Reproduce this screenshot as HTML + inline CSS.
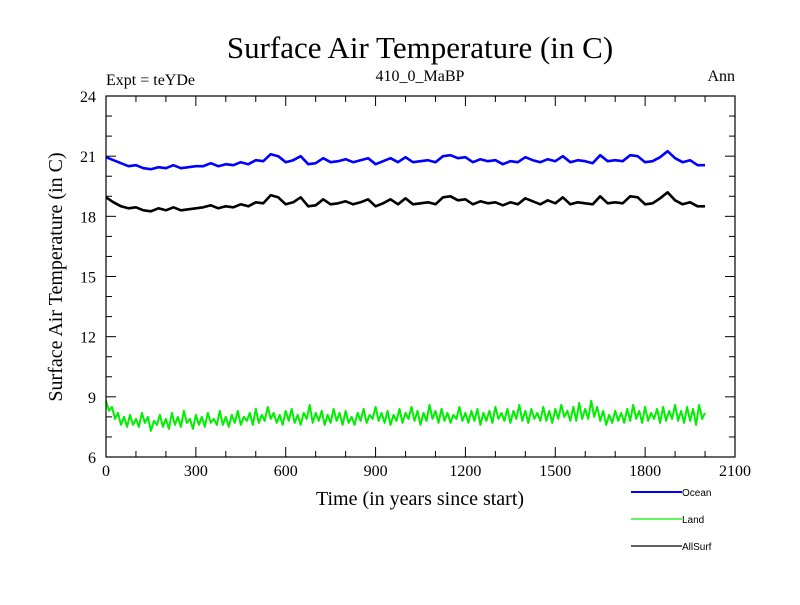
<!DOCTYPE html>
<html><head><meta charset="utf-8">
<style>
body{margin:0;background:#fff;}
svg text{font-family:"Liberation Serif",serif;}
</style></head>
<body>
<svg id="chart" width="800" height="600" xmlns="http://www.w3.org/2000/svg">
<text x="420" y="58" font-size="31" text-anchor="middle">Surface Air Temperature (in C)</text>
<text x="106" y="85" font-size="16">Expt = teYDe</text>
<text x="420" y="81" font-size="16" text-anchor="middle">410_0_MaBP</text>
<text x="735" y="81" font-size="16" text-anchor="end">Ann</text>
<text x="420" y="505" font-size="20" text-anchor="middle">Time (in years since start)</text>
<text transform="translate(62,277) rotate(-90)" font-size="20" text-anchor="middle">Surface Air Temperature (in C)</text>
<g id="ticks"></g>
<g id="series"></g>
<rect x="106" y="96" width="629" height="361" fill="none" stroke="#000" stroke-width="1.2"/>
<g id="legend"></g>
</svg>
<script>
const years=[];for(let i=0;i<=80;i++)years.push(i*25);
const landYears=[];for(let i=0;i<=200;i++)landYears.push(i*10);
const ocean=[20.95,20.8,20.65,20.5,20.55,20.4,20.35,20.45,20.4,20.55,20.4,20.45,20.5,20.5,20.65,20.5,20.6,20.55,20.7,20.6,20.8,20.75,21.1,21.0,20.7,20.8,21.0,20.6,20.65,20.9,20.7,20.75,20.85,20.7,20.8,20.9,20.6,20.75,20.9,20.7,20.95,20.7,20.75,20.8,20.7,21.0,21.05,20.9,20.95,20.7,20.85,20.75,20.8,20.6,20.75,20.7,20.95,20.8,20.7,20.85,20.75,21.0,20.7,20.8,20.75,20.65,21.05,20.75,20.8,20.75,21.05,21.0,20.7,20.75,20.95,21.25,20.9,20.7,20.8,20.55,20.55];
const allsurf=[18.95,18.7,18.5,18.4,18.45,18.3,18.25,18.4,18.3,18.45,18.3,18.35,18.4,18.45,18.55,18.4,18.5,18.45,18.6,18.5,18.7,18.65,19.05,18.95,18.6,18.7,18.95,18.5,18.55,18.85,18.6,18.65,18.75,18.6,18.7,18.85,18.5,18.65,18.85,18.6,18.9,18.6,18.65,18.7,18.6,18.95,19.0,18.8,18.85,18.6,18.75,18.65,18.7,18.55,18.7,18.6,18.9,18.75,18.6,18.8,18.65,18.95,18.6,18.7,18.65,18.6,19.0,18.65,18.7,18.65,19.0,18.95,18.6,18.65,18.9,19.2,18.8,18.6,18.7,18.5,18.5];
const land=[8.8,8.3,8.5,7.9,8.2,7.6,8.0,7.5,8.1,7.6,
7.9,7.5,8.2,7.7,8.0,7.3,7.8,7.6,8.1,7.5,
7.9,7.4,8.2,7.6,8.0,7.5,8.3,7.7,7.9,7.4,
8.1,7.6,8.0,7.5,8.2,7.7,7.9,7.6,8.3,7.6,
8.0,7.5,8.1,7.7,8.3,7.6,8.0,7.8,8.2,7.6,
8.4,7.7,8.1,7.8,8.5,7.9,8.2,7.7,8.1,7.6,
8.3,7.8,8.4,7.7,8.1,7.6,8.2,7.9,8.6,7.7,
8.2,7.8,8.3,7.6,8.1,7.7,8.4,7.8,8.2,7.6,
8.3,7.7,8.0,7.6,8.2,7.8,8.4,7.7,8.1,7.9,
8.5,7.8,8.2,7.7,8.3,7.6,8.1,7.8,8.4,7.7,
8.2,7.9,8.5,7.8,8.3,7.6,8.2,7.8,8.6,7.9,
8.3,7.7,8.4,7.8,8.2,7.7,8.1,7.9,8.5,7.8,
8.2,7.7,8.3,7.8,8.4,7.6,8.2,7.8,8.3,7.7,
8.5,7.9,8.2,7.8,8.4,7.7,8.3,7.9,8.6,7.8,
8.3,7.7,8.4,7.9,8.2,7.8,8.5,7.8,8.3,7.7,
8.4,7.9,8.6,8.0,8.3,7.8,8.5,7.8,8.7,7.9,
8.4,7.9,8.8,8.0,8.5,7.8,8.3,7.6,8.1,7.7,
8.3,7.8,8.2,7.7,8.4,7.8,8.6,7.9,8.3,7.7,
8.5,7.8,8.2,7.9,8.4,7.7,8.5,7.8,8.3,7.9,
8.6,7.8,8.3,7.7,8.5,7.8,8.4,7.6,8.6,7.9,8.2];
const xTicks=[0,300,600,900,1200,1500,1800,2100];
const yTicks=[6,9,12,15,18,21,24];
const seriesNames=['Ocean','Land','AllSurf'];
const seriesColors=['#0000ff','#00ee00','#000000'];
const X0=106,X1=735,Y0=457,Y1=96;
const xs=v=>X0+v/2100*(X1-X0);
const ys=v=>Y0-(v-6)/18*(Y0-Y1);
const NS='http://www.w3.org/2000/svg';
function mk(t,a,p){const e=document.createElementNS(NS,t);for(const k in a)e.setAttribute(k,a[k]);p.appendChild(e);return e;}
const tg=document.getElementById('ticks');
for(let v=0;v<=2100;v+=100){const x=xs(v),L=(v%300===0)?10:6;
const t1=mk('line',{x1:x,y1:Y0,x2:x,y2:Y0-L,stroke:'#000'},tg);


const t2=mk('line',{x1:x,y1:Y1,x2:x,y2:Y1+L,stroke:'#000'},tg);

}
for(let v=6;v<=24;v+=1){const y=ys(v),L=(v%3===0)?10:6;
const t1=mk('line',{x1:X0,y1:y,x2:X0+L,y2:y,stroke:'#000'},tg);


const t2=mk('line',{x1:X1,y1:y,x2:X1-L,y2:y,stroke:'#000'},tg);

}
xTicks.forEach(v=>{const t=mk('text',{x:xs(v),y:Y0+19,'font-size':16,'text-anchor':'middle'},tg);t.textContent=v;

});
yTicks.forEach(v=>{const t=mk('text',{x:X0-10,y:ys(v)+6,'font-size':16,'text-anchor':'end'},tg);t.textContent=v;

});
const sg=document.getElementById('series');
[[ocean,years],[land,landYears],[allsurf,years]].forEach((s,i)=>{
const arr=s[0],yr=s[1];
const pts=arr.map((v,j)=>xs(yr[j]).toFixed(1)+','+ys(v).toFixed(1)).join(' ');
const p=mk('polyline',{points:pts,fill:'none',stroke:seriesColors[i],'stroke-width':i===1?2:2.6,'stroke-linejoin':'round'},sg);

});
const lg=document.getElementById('legend');
seriesNames.forEach((n,i)=>{const y=492+i*27;
const l=mk('line',{x1:631,y1:y,x2:682,y2:y,stroke:seriesColors[i],'stroke-width':i===0?2:1.3},lg);


const t=mk('text',{x:682,y:y+4,'font-size':10,style:'font-family:"Liberation Sans",sans-serif'},lg);t.textContent=n;

});
</script>
</body></html>
